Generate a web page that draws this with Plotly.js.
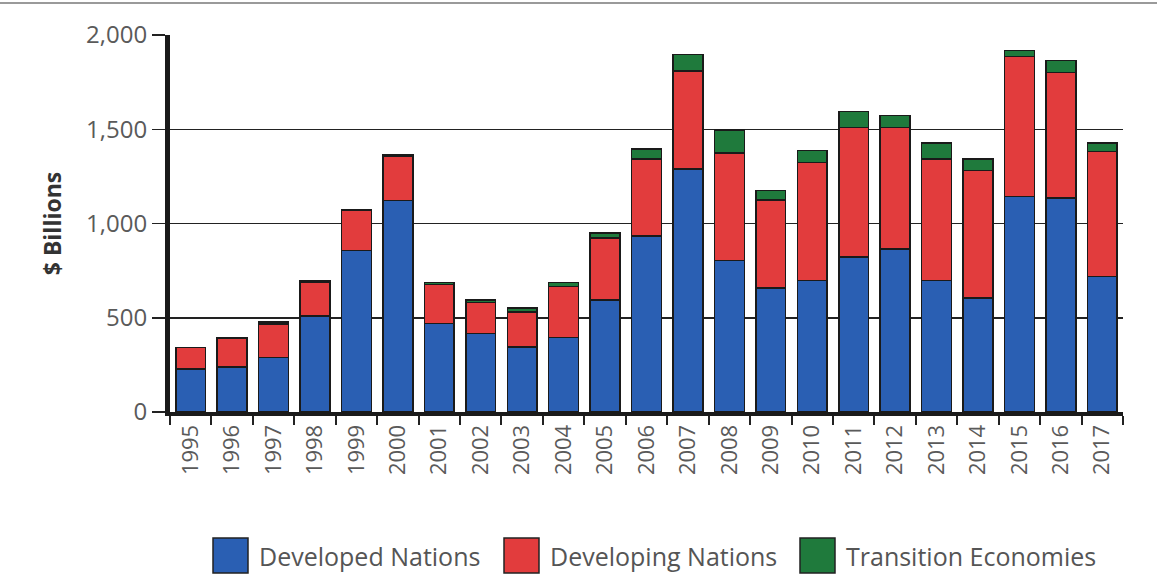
<!DOCTYPE html>
<html>
<head>
<meta charset="utf-8">
<script src="https://cdn.plot.ly/plotly-3.0.1.min.js"></script>
<style>
html,body{margin:0;padding:0;background:#fff;}
#chart{width:1157px;height:588px;}
</style>
</head>
<body>
<div id="chart"></div>
<script>
const years = ['1995','1996','1997','1998','1999','2000','2001','2002','2003','2004','2005','2006','2007','2008','2009','2010','2011','2012','2013','2014','2015','2016','2017'];
const developed = [229,240,288,508,856,1123,469,417,344,394,593,935,1288,803,658,697,822,865,697,604,1144,1135,720];
const developing = [112,150,180,182,214,233,207,165,186,273,330,406,521,570,466,627,687,644,644,677,741,667,662];
const transition = [2,4,9,7,3,8,12,11,22,21,27,55,88,124,51,62,85,64,85,60,32,62,46];
const seriesNames = ['Developed Nations','Developing Nations','Transition Economies'];
const seriesColors = ['#2a5fb3','#e23c3d','#1f7a3c'];
const yTitle = '$ Billions';

const W = 1157, H = 588;
const M = {l:170, r:34, t:35, b:176};
const pw = W - M.l - M.r, ph = H - M.t - M.b;
const px = x => (x - M.l) / pw;
const py = y => (H - M.b - y) / ph;

const seriesData = [developed, developing, transition];
const traces = seriesData.map((vals, i) => ({
  type: 'bar',
  x: years,
  y: vals,
  name: seriesNames[i],
  marker: {color: seriesColors[i], line: {color: '#1a1a1a', width: 1.5}},
  showlegend: false,
  hoverinfo: 'x+y+name'
}));

// custom legend (large squares like the reference)
const legSquareX = [213, 504, 800];
const legSize = 35;
const legY = 538;
const shapes = [
  {type:'line', xref:'paper', yref:'paper', x0:px(0), x1:px(W), y0:py(3), y1:py(3), line:{color:'#9a9a9a', width:2}}
];
const annotations = [];
seriesNames.forEach((n, i) => {
  shapes.push({type:'rect', xref:'paper', yref:'paper',
    x0:px(legSquareX[i]), x1:px(legSquareX[i]+legSize),
    y0:py(legY+legSize), y1:py(legY),
    fillcolor: seriesColors[i], line:{color:'#222', width:1.5}});
  annotations.push({xref:'paper', yref:'paper', x:px(legSquareX[i]+legSize+9), y:py(legY+legSize/2),
    xanchor:'left', yanchor:'middle', showarrow:false, text:n,
    font:{family:'Open Sans, sans-serif', size:25, color:'#555'}});
});

const layout = {
  width: W, height: H,
  margin: M,
  barmode: 'stack',
  bargap: 0.28,
  paper_bgcolor: '#fff',
  plot_bgcolor: '#fff',
  showlegend: false,
  font: {family: 'Open Sans, sans-serif', color: '#555'},
  xaxis: {
    type: 'category',
    tickangle: -90,
    tickfont: {size: 22, color: '#5a5a5a'},
    ticks: 'outside',
    tickson: 'boundaries',
    ticklen: 9,
    tickwidth: 2,
    tickcolor: '#222',
    showline: true,
    linecolor: '#1a1a1a',
    linewidth: 4,
    showgrid: false,
    layer: 'below traces',
    fixedrange: true
  },
  yaxis: {
    range: [0, 2000],
    tickvals: [0, 500, 1000, 1500, 2000],
    tickformat: ',d',
    tickfont: {size: 24, color: '#5a5a5a'},
    ticks: 'outside',
    ticklen: 13,
    tickwidth: 1.5,
    tickcolor: '#222',
    showline: true,
    linecolor: '#1a1a1a',
    linewidth: 5,
    showgrid: true,
    gridcolor: '#222',
    gridwidth: 1.5,
    zeroline: false,
    title: {text: yTitle, font: {size: 23, color: '#333', family: 'Open Sans, sans-serif', weight: 'bold'}, standoff: 20},
    fixedrange: true
  },
  shapes: shapes,
  annotations: annotations
};

Plotly.newPlot('chart', traces, layout, {displayModeBar: false, staticPlot: true});
</script>
</body>
</html>
